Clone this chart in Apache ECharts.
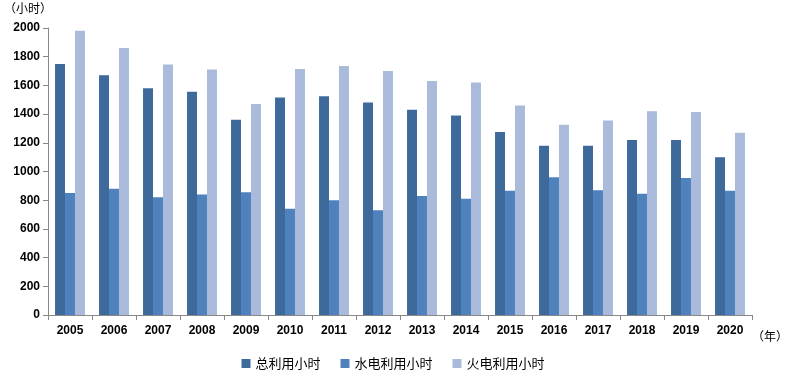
<!DOCTYPE html>
<html>
<head>
<meta charset="utf-8">
<script src="https://cdn.jsdelivr.net/npm/echarts@6/dist/echarts.min.js"></script>
<style>
  html, body { margin: 0; padding: 0; background: #fff; }
  #main { width: 786px; height: 377px; }
</style>
</head>
<body>
<div id="main"></div>
<script>
var years = ['2005', '2006', '2007', '2008', '2009', '2010', '2011', '2012',
    '2013', '2014', '2015', '2016', '2017', '2018', '2019', '2020'];
var totalHours = [1750, 1670, 1580, 1555, 1360, 1515, 1525, 1480, 1430, 1390, 1275, 1180, 1180, 1220, 1220, 1100];
var hydroHours = [850, 880, 820, 840, 855, 740, 800, 730, 830, 810, 865, 960, 870, 845, 955, 865];
var thermalHours = [1980, 1860, 1745, 1710, 1470, 1715, 1735, 1700, 1630, 1620, 1460, 1325, 1355, 1420, 1415, 1270];
var seriesNames = ['总利用小时', '水电利用小时', '火电利用小时'];

var font = 'Liberation Sans, "Noto Sans CJK SC", sans-serif';
var myChart = echarts.init(document.getElementById('main'));
var option = {
    animation: false,
    textStyle: { fontFamily: font },
    color: ['#3e6a9b', '#4f81bd', '#a9badb'],
    grid: { left: 48, right: 34, top: 28, bottom: 62 },
    legend: {
        bottom: 2,
        left: 'center',
        itemWidth: 9,
        itemHeight: 9,
        itemGap: 20,
        icon: 'rect',
        textStyle: { fontSize: 13, color: '#000', fontFamily: '"Noto Sans CJK SC", sans-serif' },
        data: seriesNames
    },
    graphic: [
        { type: 'text', left: 4, top: 2, style: { text: '（小时）', fill: '#000', font: '12px "Noto Sans CJK SC"' } },
        { type: 'text', left: 752, top: 330, style: { text: '（年）', fill: '#000', font: '12px "Noto Sans CJK SC"' } }
    ],
    xAxis: [{
        type: 'category',
        data: years,
        axisLine: { lineStyle: { color: '#888' } },
        axisTick: { show: true, length: 5, lineStyle: { color: '#888' } },
        axisLabel: { color: '#000', fontSize: 12, margin: 10, fontWeight: 'bold' }
    }],
    yAxis: [{
        type: 'value',
        min: 0,
        max: 2000,
        interval: 200,
        axisLine: { show: true, lineStyle: { color: '#888' } },
        axisTick: { show: true, length: 5, lineStyle: { color: '#888' } },
        axisLabel: {
            color: '#000', fontSize: 12, margin: 8, fontWeight: 'bold',
            formatter: function (value) {
                return String(value);
            }
        },
        splitLine: { show: false }
    }],
    series: [{
        name: seriesNames[0],
        type: 'bar',
        data: totalHours,
        barGap: '0%',
        barCategoryGap: '32%'
    }, {
        name: seriesNames[1],
        type: 'bar',
        data: hydroHours
    }, {
        name: seriesNames[2],
        type: 'bar',
        data: thermalHours
    }]
};
myChart.setOption(option);
</script>
</body>
</html>
